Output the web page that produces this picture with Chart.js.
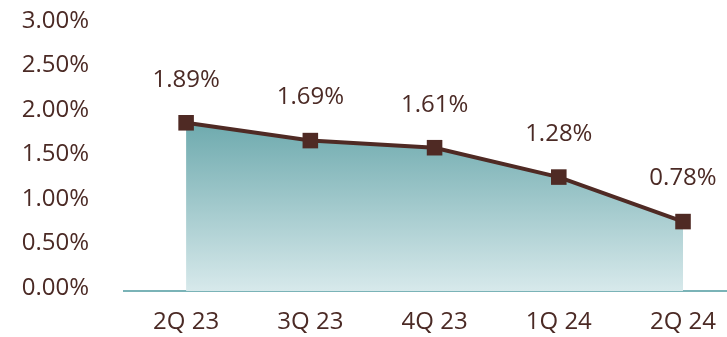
<!DOCTYPE html>
<html>
<head>
<meta charset="utf-8">
<script src="https://cdn.jsdelivr.net/npm/chart.js@4"></script>
<style>
  html, body { margin: 0; padding: 0; background: #fff; }
  #wrap { width: 727px; height: 337px; }
</style>
</head>
<body>
<div id="wrap"><canvas id="chart" width="727" height="337"></canvas></div>
<script>
const quarters = ["2Q 23", "3Q 23", "4Q 23", "1Q 24", "2Q 24"];
const rates = [1.89, 1.69, 1.61, 1.28, 0.78];
const yTicks = [0, 0.5, 1, 1.5, 2, 2.5, 3];

const TEXT = "#4b2a25";
const LINE = "#4f2a24";
const FONT = "'Open Sans', 'Noto Sans', sans-serif";

// rótulos dos eixos e valores desenhados à mão (a partir das escalas)
const labelsPlugin = {
    id: "labelsPlugin",
    afterDatasetsDraw(chart) {
        const ctx = chart.ctx;
        const xs = chart.scales.x, ys = chart.scales.y;
        const meta = chart.getDatasetMeta(0);
        ctx.save();
        ctx.fillStyle = TEXT;
        ctx.font = "24px " + FONT;
        ctx.textBaseline = "middle";

        // eixo y
        ctx.textAlign = "right";
        yTicks.forEach(v => {
            ctx.fillText(v.toFixed(2) + "%", ys.left + ys.width - 35, ys.getPixelForValue(v) - 3);
        });

        // eixo x
        ctx.textAlign = "center";
        quarters.forEach((q, i) => {
            ctx.fillText(q, xs.getPixelForValue(i), xs.top + 31);
        });

        // valores
        meta.data.forEach((pt, i) => {
            ctx.fillText(rates[i].toFixed(2) + "%", pt.x, pt.y - 43);
        });
        ctx.restore();
    }
};

new Chart(document.getElementById("chart"), {
    type: "line",
    data: {
        datasets: [{
            data: rates.map((v, i) => ({ x: i, y: v })),
            borderColor: LINE,
            borderWidth: 4,
            tension: 0,
            pointStyle: "rect",
            pointRadius: 11,
            pointBackgroundColor: LINE,
            pointBorderColor: LINE,
            pointBorderWidth: 0,
            fill: "origin",
            backgroundColor: (c) => {
                const area = c.chart.chartArea;
                if (!area) return "#9cc5c8";
                const y = c.chart.scales.y;
                const g = c.chart.ctx.createLinearGradient(0, y.getPixelForValue(1.89), 0, area.bottom);
                g.addColorStop(0, "#6eaaae");
                g.addColorStop(1, "#d7e9eb");
                return g;
            }
        }]
    },
    options: {
        responsive: false,
        animation: false,
        layout: { autoPadding: false, padding: { top: 24, right: 0, left: 0, bottom: 0 } },
        plugins: { legend: { display: false }, tooltip: { enabled: false } },
        scales: {
            x: {
                type: "linear",
                min: -0.5,
                max: 4.354,
                afterBuildTicks: (axis) => { axis.ticks = quarters.map((q, i) => ({ value: i })); },
                afterFit: (axis) => { axis.height = 46; },
                grid: { display: false, drawTicks: false },
                border: { display: true, color: "#7ab3b7", width: 2 },
                ticks: { display: false }
            },
            y: {
                min: 0,
                max: 3,
                afterBuildTicks: (axis) => { axis.ticks = yTicks.map(v => ({ value: v })); },
                afterFit: (axis) => { axis.width = 124; },
                grid: { display: false, drawTicks: false },
                border: { display: false },
                ticks: { display: false }
            }
        }
    },
    plugins: [labelsPlugin]
});
</script>
</body>
</html>
